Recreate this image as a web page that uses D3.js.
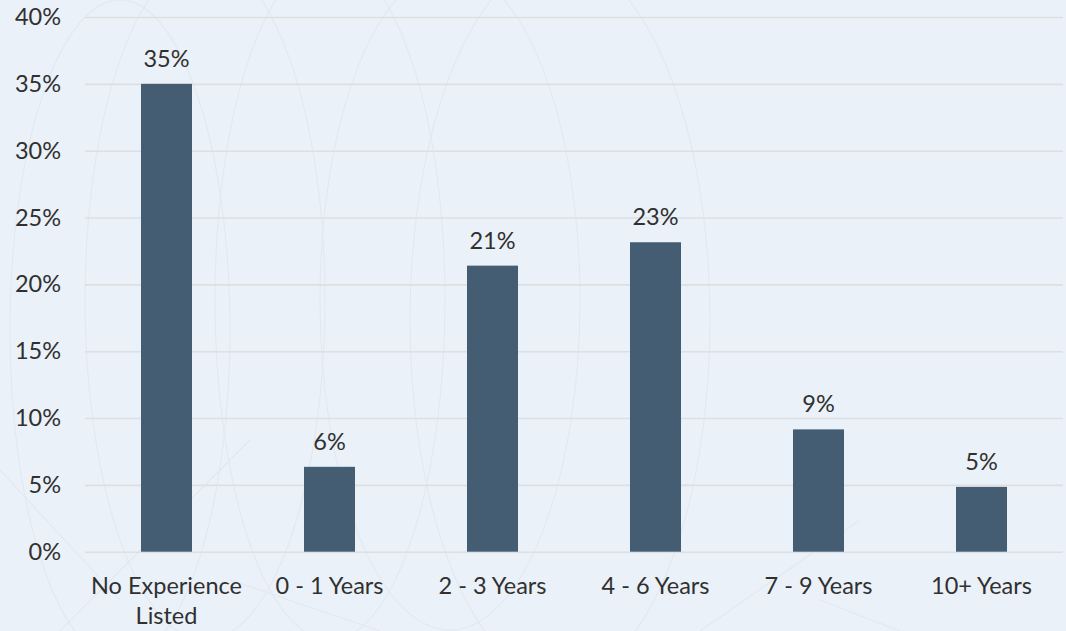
<!DOCTYPE html>
<html>
<head>
<meta charset="utf-8">
<script src="https://cdn.jsdelivr.net/npm/d3@7/dist/d3.min.js"></script>
<style>
  html, body { margin: 0; padding: 0; background: #ebf1f8; }
  svg { display: block; }
</style>
</head>
<body>
<svg id="chart" width="1066" height="631"></svg>
<script>
// Share of postings by years of experience required
const categories = ["No Experience Listed", "0 - 1 Years", "2 - 3 Years", "4 - 6 Years", "7 - 9 Years", "10+ Years"];
const values = [35.0, 6.35, 21.4, 23.15, 9.15, 4.85];
const valueLabels = ["35%", "6%", "21%", "23%", "9%", "5%"];
const yTicks = [0, 5, 10, 15, 20, 25, 30, 35, 40];

const W = 1066, H = 631;
const margin = { top: 17, right: 3, bottom: 79, left: 85 };
const svg = d3.select("#chart");
const font = "Lato, 'Open Sans', sans-serif";
const textColor = "#303030";
const fontSize = "23.5px";

// soft decorative background pattern
const deco = svg.append("g").attr("fill", "none").attr("stroke", "#e2e8f0").attr("stroke-width", 1.1);
const ellipses = [[205, 300, 120, 340], [330, 300, 115, 340], [450, 300, 130, 330], [560, 320, 150, 360], [120, 330, 110, 330]];
ellipses.forEach(e => deco.append("ellipse").attr("cx", e[0]).attr("cy", e[1]).attr("rx", e[2]).attr("ry", e[3]));
const diag = [[0, 470, 120, 600], [60, 631, 250, 440], [230, 580, 380, 631], [700, 631, 860, 520], [820, 600, 900, 631]];
diag.forEach(d => deco.append("line").attr("x1", d[0]).attr("y1", d[1]).attr("x2", d[2]).attr("y2", d[3]));

const x = d3.scaleBand()
  .domain(categories)
  .range([margin.left, W - margin.right])
  .paddingInner(0.687)
  .paddingOuter(0.3435);

const y = d3.scaleLinear()
  .domain([0, 40])
  .range([H - margin.bottom - 0.3, margin.top]);

// gridlines + y tick labels
const yAxis = d3.axisLeft(y)
  .tickValues(yTicks)
  .tickSize(-(W - margin.right - margin.left))
  .tickFormat(d => d + "%")
  .tickPadding(24);

const gy = svg.append("g")
  .attr("transform", `translate(${margin.left},0)`)
  .call(yAxis);
gy.select(".domain").remove();
gy.selectAll(".tick line").attr("stroke", "#dedfe1").attr("stroke-width", 1.6);
gy.selectAll(".tick text")
  .attr("fill", textColor)
  .style("font-family", font)
  .style("font-size", fontSize);

// bars
svg.append("g").selectAll("rect")
  .data(categories)
  .join("rect")
  .attr("x", d => x(d))
  .attr("width", x.bandwidth())
  .attr("y", (d, i) => y(values[i]))
  .attr("height", (d, i) => y(0) - y(values[i]))
  .attr("fill", "#445d73");

// value labels
svg.append("g").selectAll("text")
  .data(categories)
  .join("text")
  .attr("x", d => x(d) + x.bandwidth() / 2)
  .attr("y", (d, i) => y(values[i]) - 17)
  .attr("text-anchor", "middle")
  .attr("fill", textColor)
  .style("font-family", font)
  .style("font-size", fontSize)
  .text((d, i) => valueLabels[i]);

// category labels (wrapped)
const xAxis = d3.axisBottom(x).tickSize(0).tickPadding(0);
const gx = svg.append("g")
  .attr("transform", `translate(0,${y(0)})`)
  .call(xAxis);
gx.select(".domain").remove();
gx.selectAll(".tick text")
  .attr("fill", textColor)
  .style("font-family", font)
  .style("font-size", fontSize)
  .each(function (d) {
    const t = d3.select(this);
    t.text(null).attr("y", null).attr("dy", null);
    const lines = d === "No Experience Listed" ? ["No Experience", "Listed"] : [d];
    lines.forEach((ln, k) => {
      t.append("tspan").attr("x", 0).attr("y", 42 + k * 30).text(ln);
    });
  });
</script>
</body>
</html>
